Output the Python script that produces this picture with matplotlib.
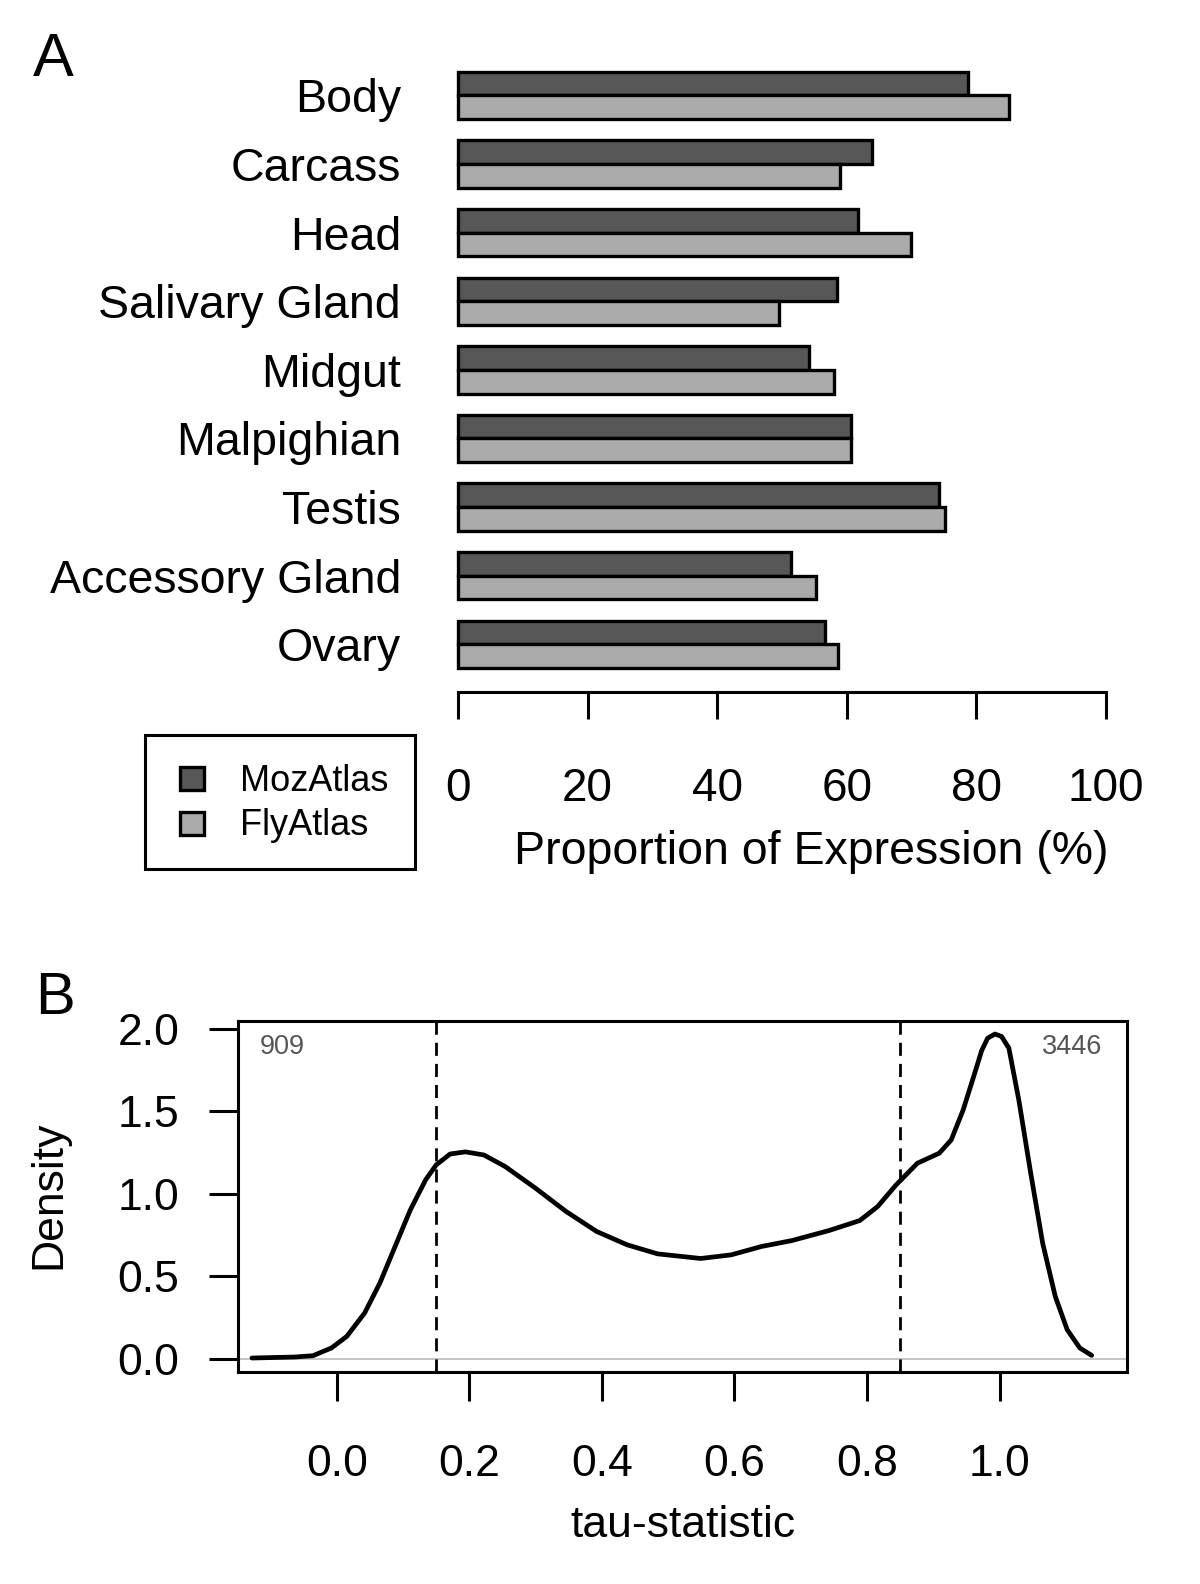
import matplotlib
matplotlib.use("Agg")
import matplotlib.pyplot as plt
from matplotlib.patches import Rectangle
from matplotlib.container import BarContainer
from matplotlib.legend_handler import HandlerPatch

plt.rcParams['font.family'] = ['Liberation Sans', 'DejaVu Sans']

# panel A: proportion of genes expressed per tissue
tissues = ["Body", "Carcass", "Head", "Salivary Gland", "Midgut",
           "Malpighian", "Testis", "Accessory Gland", "Ovary"]
moz_atlas = [78.7, 63.9, 61.7, 58.5, 54.1, 60.6, 74.3, 51.4, 56.7]
fly_atlas = [85.0, 59.0, 69.9, 49.5, 58.1, 60.7, 75.2, 55.3, 58.7]
pct_ticks = [0, 20, 40, 60, 80, 100]

# panel B: density of the tau statistic
tau_x = [-0.128, -0.064, -0.036, -0.008, 0.015, 0.042, 0.065, 0.088, 0.111,
         0.134, 0.150, 0.171, 0.194, 0.222, 0.254, 0.300, 0.346, 0.392,
         0.438, 0.484, 0.549, 0.595, 0.641, 0.687, 0.743, 0.789, 0.816,
         0.844, 0.876, 0.909, 0.927, 0.945, 0.964, 0.973, 0.982, 0.993,
         1.003, 1.014, 1.029, 1.047, 1.065, 1.084, 1.102, 1.121, 1.139]
tau_density = [0.004, 0.010, 0.018, 0.065, 0.135, 0.277, 0.459, 0.681, 0.903,
               1.085, 1.176, 1.242, 1.255, 1.236, 1.166, 1.034, 0.893, 0.772,
               0.691, 0.636, 0.608, 0.630, 0.681, 0.717, 0.778, 0.838, 0.923,
               1.055, 1.186, 1.247, 1.327, 1.509, 1.752, 1.870, 1.945, 1.970,
               1.955, 1.885, 1.570, 1.125, 0.701, 0.378, 0.176, 0.065, 0.020]
tau_cutoffs = [0.15, 0.85]
n_broad = 909
n_specific = 3446
tau_ticks = [0.0, 0.2, 0.4, 0.6, 0.8, 1.0]
dens_ticks = [0.0, 0.5, 1.0, 1.5, 2.0]

W, H = 1200, 1584
fig = plt.figure(figsize=(W / 100, H / 100), dpi=100)


def legend_square(legend, orig_handle, xdescent, ydescent, width, height, fontsize):
    # small square pushed to the right side of the handle box (R-style legend)
    sw, sh = 17.3, 16.8
    return Rectangle((-xdescent + width - sw, -ydescent + (height - sh) / 2), sw, sh)


def copy_bar_style(legend_handle, orig_handle):
    legend_handle.update_from(orig_handle.patches[0])


# ---------------- panel A ----------------
ax1 = fig.add_axes([458 / W, 1 - 692 / H, 648 / W, (692 - 61.2) / H])
pos = list(range(len(tissues)))
bh = 0.346
ax1.barh([p - bh / 2 for p in pos], moz_atlas, height=bh, color='#575757',
         edgecolor='black', linewidth=2.4, label='MozAtlas', clip_on=False)
ax1.barh([p + bh / 2 for p in pos], fly_atlas, height=bh, color='#aaaaaa',
         edgecolor='black', linewidth=2.4, label='FlyAtlas', clip_on=False)
ax1.set_xlim(0, 100)
ax1.set_ylim(8.696, -0.5)
for s in ['left', 'right', 'top']:
    ax1.spines[s].set_visible(False)
ax1.spines['bottom'].set_linewidth(2.2)
ax1.spines['bottom'].set_bounds(0, 100)
ax1.set_xticks(pct_ticks)
ax1.set_xticklabels([str(t) for t in pct_ticks])
ax1.tick_params(axis='x', direction='out', length=19.4, width=2.2,
                labelsize=33, pad=34.5)
ax1.set_yticks(pos)
ax1.set_yticklabels(tissues)
ax1.tick_params(axis='y', length=0, labelsize=33.5, pad=41)
ax1.set_xlabel('Proportion of Expression (%)', fontsize=33.5, va='center')
ax1.xaxis.set_label_coords(0.545, -0.253)

square_handler = HandlerPatch(patch_func=legend_square, update_func=copy_bar_style)
leg = fig.legend(loc='upper left', bbox_to_anchor=(145 / W, 1 - 735 / H),
                 bbox_transform=fig.transFigure, fontsize=26, frameon=True,
                 fancybox=False, edgecolor='black', framealpha=1,
                 borderaxespad=0, borderpad=0.72, handlelength=0.915,
                 handleheight=1.1, handletextpad=1.0, labelspacing=0.2,
                 handler_map={BarContainer: square_handler})
leg.get_frame().set_linewidth(2.2)

# ---------------- panel B ----------------
ax2 = fig.add_axes([237.7 / W, 1 - 1371.7 / H, 889.8 / W, 350.7 / H])
ax2.axhline(0, color='#bbbbbb', lw=1.2, zorder=1)
for c in tau_cutoffs:
    ax2.axvline(c, color='black', lw=2, dashes=(4.7, 2.9), zorder=2)
ax2.plot(tau_x, tau_density, color='black', lw=3.4, zorder=3,
         solid_capstyle='round', solid_joinstyle='round')
ax2.set_xlim(-0.1495, 1.193)
ax2.set_ylim(-0.079, 2.049)
for s in ax2.spines.values():
    s.set_linewidth(2.2)
ax2.set_xticks(tau_ticks)
ax2.set_xticklabels([f'{t:.1f}' for t in tau_ticks])
ax2.set_yticks(dens_ticks)
ax2.set_yticklabels([f'{t:.1f}' for t in dens_ticks])
ax2.tick_params(axis='x', length=20.9, width=2.2, labelsize=32, pad=31)
ax2.tick_params(axis='y', length=20.9, width=2.2, labelsize=32, pad=21)
ax2.set_xlabel('tau-statistic', fontsize=32, va='center')
ax2.xaxis.set_label_coords(0.5, -0.438)
ax2.set_ylabel('Density', fontsize=32, va='center')
ax2.yaxis.set_label_coords(-0.2126, 0.504)
ax2.text(-0.0826, 1.891, str(n_broad), fontsize=19.5, color='#555555',
         ha='center', va='center')
ax2.text(1.1095, 1.891, str(n_specific), fontsize=19.5, color='#555555',
         ha='center', va='center')

fig.text(53 / W, 1 - 61 / H, 'A', fontsize=44, ha='center', va='center')
fig.text(55 / W, 1 - 998 / H, 'B', fontsize=43, ha='center', va='center')

fig.savefig('out.png', dpi=100)
